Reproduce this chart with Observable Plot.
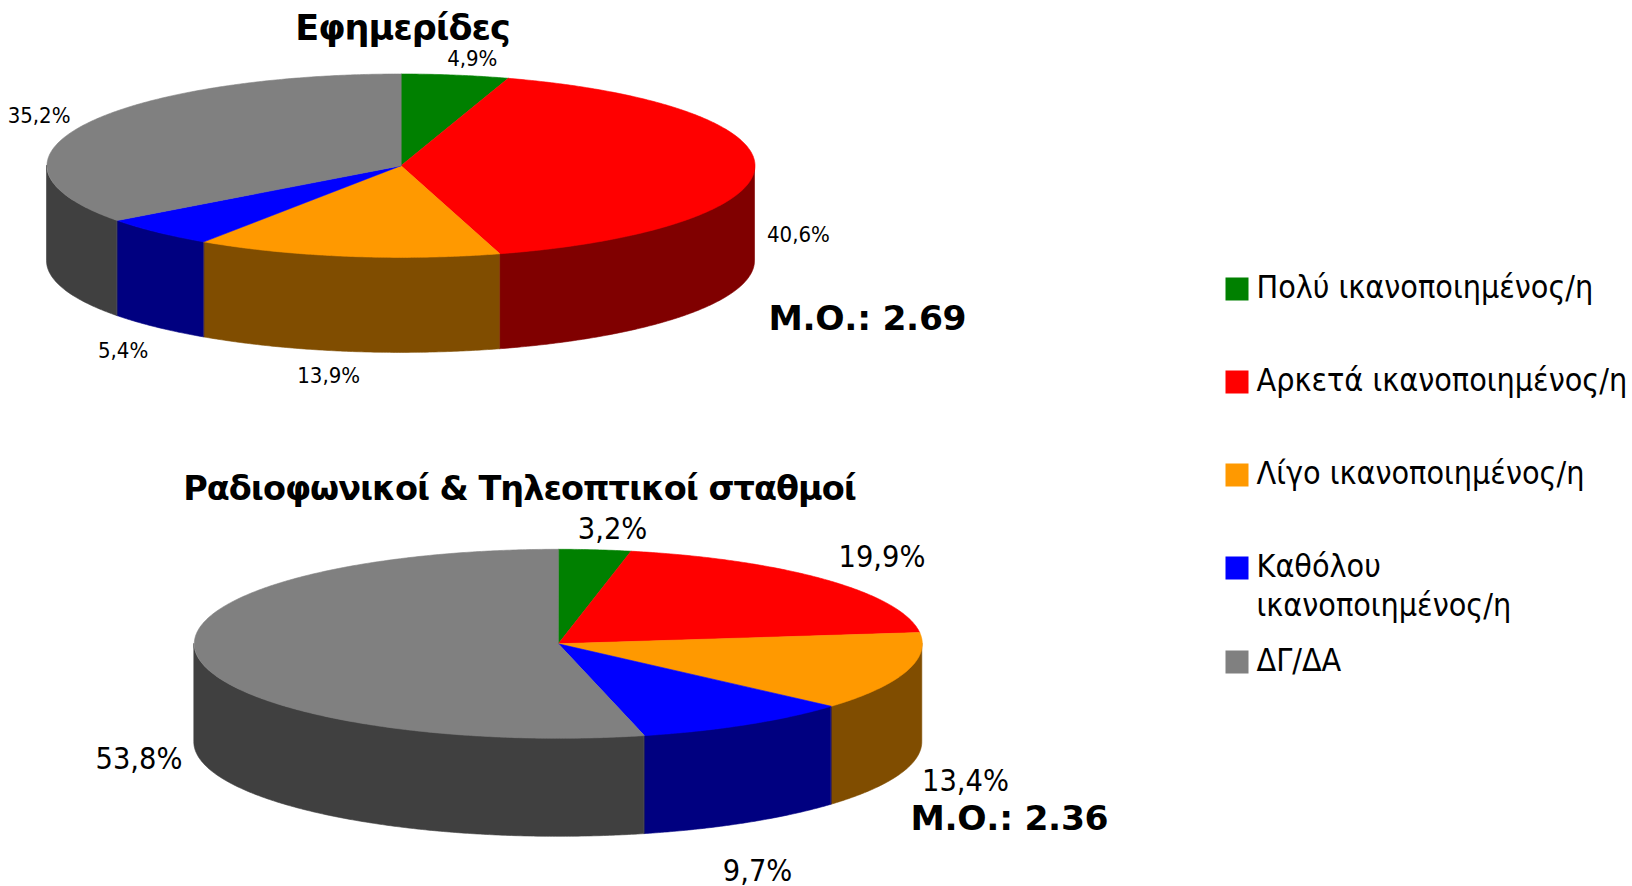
<!DOCTYPE html>
<html lang="el">
<head>
<meta charset="utf-8">
<script src="https://cdn.jsdelivr.net/npm/d3@7"></script>
<script src="https://cdn.jsdelivr.net/npm/@observablehq/plot@0.6"></script>
<style>
html,body{margin:0;padding:0;background:#fff}
svg{display:block}
.tight text{letter-spacing:-1px}
.tight1 text{letter-spacing:-0.3px}
</style>
</head>
<body>
<div id="chart"></div>
<script>
// --- data ---
const categories = ["Πολύ ικανοποιημένος/η","Αρκετά ικανοποιημένος/η","Λίγο ικανοποιημένος/η","Καθόλου\nικανοποιημένος/η","ΔΓ/ΔΑ"];
const newspapers = [4.9,40.6,13.9,5.4,35.2];
const broadcasters = [3.2,19.9,13.4,9.7,53.8];
const topColors = ["#008000","#ff0000","#ff9900","#0000ff","#808080"];
const sideColors = ["#004000","#800000","#804d00","#000080","#404040"];
const titleNews = "Εφημερίδες";
const titleBroad = "Ραδιοφωνικοί & Τηλεοπτικοί σταθμοί";
const meanNews = "Μ.Ο.: 2.69";
const meanBroad = "Μ.Ο.: 2.36";

// --- layout ---
const W = 1632, H = 886;
const pies = [
  {name:"a", values:newspapers, cx:400.5, cy:165.2, rx:354, ry:91.7, depth:95.5,
   off:[[17,-16],[43.5,68.4],[-18,120],[-34,119],[-45.5,-9]]},
  {name:"b", values:broadcasters, cx:557.8, cy:643.3, rx:364, ry:94.5, depth:98.5,
   off:[[17.7,-20.5],[56,-22.4],[59.6,108.9],[11,146.6],[-57.9,104.3]]}
];
const sideKey = c => "side " + c;
const rad = d => d * Math.PI / 180;

const tops = [], sides = [], labels = [];
for (const p of pies) {
  const px = a => p.cx + p.rx * Math.sin(rad(a));
  const py = a => p.cy - p.ry * Math.cos(rad(a));
  let acc = 0;
  p.values.forEach((v, i) => {
    const a0 = acc * 3.6, a1 = (acc + v) * 3.6;
    acc += v;
    const cat = categories[i], id = p.name + i;
    const arc = (s, e) => {
      const out = [];
      for (let a = s; a < e; a += 0.5) out.push(a);
      out.push(e);
      return out;
    };
    tops.push({id, cat, x:p.cx, y:p.cy});
    for (const a of arc(a0, a1)) tops.push({id, cat, x:px(a), y:py(a)});
    const s = Math.max(a0, 90), e = Math.min(a1, 270);
    if (e > s) for (const a of arc(s, e))
      sides.push({id, cat:sideKey(cat), x:px(a), y1:py(a), y2:py(a) + p.depth});
    const mid = (a0 + a1) / 2;
    labels.push({text:v.toFixed(1).replace(".", ",") + "%", x:px(mid) + p.off[i][0], y:py(mid) + p.off[i][1]});
  });
}

const legendRows = [288.5,381.5,474.5,567.5,661.5];
const legend = categories.map((c, i) => ({cat:c, y:legendRows[i]}));
const FONT = "'DejaVu Sans Condensed','DejaVu Sans',sans-serif";
const BOLD = "'DejaVu Sans',sans-serif";

const chart = Plot.plot({
  width:W, height:H, margin:0,
  style:{background:"#fff", overflow:"visible"},
  x:{domain:[0,W], range:[0,W], axis:null},
  y:{domain:[0,H], range:[0,H], axis:null},
  color:{type:"ordinal", domain:[...categories, ...categories.map(sideKey)], range:[...topColors, ...sideColors]},
  marks:[
    Plot.areaY(sides, {x:"x", y1:"y1", y2:"y2", z:"id", fill:"cat", stroke:"cat", strokeWidth:0.6}),
    Plot.line(tops, {x:"x", y:"y", z:"id", fill:"cat", stroke:"cat", strokeWidth:0.6, curve:"linear-closed"}),
    Plot.text(labels.slice(0,5), {x:"x", y:"y", text:"text", fontSize:22, fontFamily:FONT, fill:"#000"}),
    Plot.text(labels.slice(5), {x:"x", y:"y", text:"text", fontSize:30.4, fontFamily:FONT, fill:"#000"}),
    Plot.text([titleNews], {x:[402], y:[28.5], text:d=>d, fontSize:35, fontWeight:700, fontFamily:BOLD, fill:"#000", className:"tight"}),
    Plot.text([titleBroad], {x:[519], y:[488.5], text:d=>d, fontSize:33.5, fontWeight:700, fontFamily:BOLD, fill:"#000", className:"tight"}),
    Plot.text([meanNews], {x:[768], y:[318], text:d=>d, fontSize:34.5, fontWeight:700, fontFamily:BOLD, textAnchor:"start", fill:"#000", className:"tight1"}),
    Plot.text([meanBroad], {x:[910], y:[818], text:d=>d, fontSize:34.5, fontWeight:700, fontFamily:BOLD, textAnchor:"start", fill:"#000", className:"tight1"}),
    Plot.dot(legend, {x:()=>1236.5, y:"y", r:12.98, symbol:"square", fill:"cat"}),
    Plot.text(legend, {x:()=>1256, y:"y", dy:-18, text:"cat", textAnchor:"start", lineAnchor:"top", fontSize:32, lineHeight:1.2, fontFamily:FONT, fill:"#000"})
  ]
});
document.getElementById("chart").appendChild(chart);
</script>
</body>
</html>
